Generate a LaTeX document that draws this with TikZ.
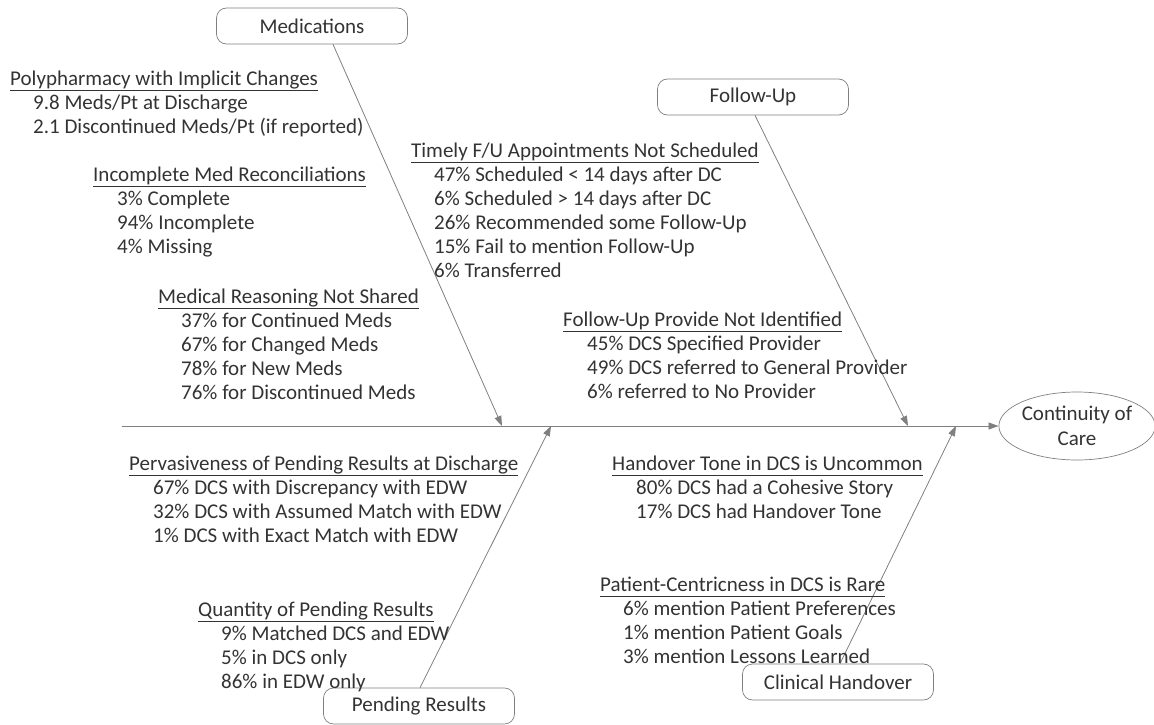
\documentclass[tikz,border=0pt]{standalone}
\usepackage{fontspec}
\setmainfont{Carlito}
\usepackage{tikz}
\usetikzlibrary{arrows.meta,shapes.geometric}

\definecolor{linegray}{HTML}{7F7F7F}
\definecolor{textgray}{HTML}{333333}
\newcommand{\bonetitle}[1]{\underline{#1\vphantom{gy}}}

\tikzset{
  cause/.style={draw=linegray, line width=0.7pt, rounded corners=10pt, minimum width=191pt,
    minimum height=36pt, inner sep=0pt, text=textgray},
  title/.style={anchor=base west, inner sep=0pt, text=textgray},
  item/.style={anchor=base west, inner sep=0pt, text=textgray},
  bone/.style={draw=linegray, line width=0.8pt, -{Triangle[length=10pt,width=7pt]}},
}

\begin{document}
\begin{tikzpicture}[x=1pt, y=-1pt, font=\fontsize{21}{25}\selectfont]
    \useasboundingbox (0,0) rectangle (1154,725);
    % Effect and spine
    \node[ellipse, draw=linegray, line width=0.7pt, minimum width=148pt, minimum height=68pt,
      inner sep=0pt, align=center, text=textgray] (effect) at (1077,426) {Continuity of\\Care};
    \coordinate (tail) at (122,426);
    \draw[bone] (tail) -- (effect.west);
    % Causes
    \node[cause] (meds) at (312,26) {Medications};
    \node[cause] (follow) at (753,97) {Follow-Up};
    \node[cause] (pending) at (419,706) {Pending Results};
    \node[cause] (handover) at (838,682) {Clinical Handover};
    % Bone heads on the spine
    \coordinate (medshead) at (502,426);
    \coordinate (followhead) at (908,426);
    \coordinate (pendinghead) at (551,426);
    \coordinate (handoverhead) at (956,426);
    \draw[bone] ([xshift=21pt]meds.south) -- (medshead);
    \draw[bone] ([xshift=2pt]follow.south) -- (followhead);
    \draw[bone] ([xshift=1pt]pending.north) -- (pendinghead);
    \draw[bone] ([xshift=2pt]handover.north) -- (handoverhead);
    % Medications
    \node[title] (poly) at (10,85) {\bonetitle{Polypharmacy with Implicit Changes}};
    \foreach \t [count=\i] in {9.8 Meds/Pt at Discharge, 2.1 Discontinued Meds/Pt (if reported)}
      \node[item] (poly\i) at (33,85+24*\i) {\t};
    \node[title] (recon) at (93,181) {\bonetitle{Incomplete Med Reconciliations}};
    \foreach \t [count=\i] in {3\% Complete, 94\% Incomplete, 4\% Missing}
      \node[item] (recon\i) at (117,181+24*\i) {\t};
    \node[title] (reason) at (158,303) {\bonetitle{Medical Reasoning Not Shared}};
    \foreach \t [count=\i] in {37\% for Continued Meds, 67\% for Changed Meds, 78\% for New Meds,
      76\% for Discontinued Meds}
      \node[item] (reason\i) at (181,303+24*\i) {\t};
    % Follow-Up
    \node[title] (timely) at (411,157) {\bonetitle{Timely F/U Appointments Not Scheduled}};
    \foreach \t [count=\i] in {47\% Scheduled < 14 days after DC, 6\% Scheduled > 14 days after DC,
      26\% Recommended some Follow-Up, 15\% Fail to mention Follow-Up, 6\% Transferred}
      \node[item] (timely\i) at (434,157+24*\i) {\t};
    \node[title] (provider) at (563,326) {\bonetitle{Follow-Up Provide Not Identified}};
    \foreach \t [count=\i] in {45\% DCS Specified Provider, 49\% DCS referred to General Provider,
      6\% referred to No Provider}
      \node[item] (provider\i) at (587,326+24*\i) {\t};
    % Pending Results
    \node[title] (pervasive) at (129,470) {\bonetitle{Pervasiveness of Pending Results at Discharge}};
    \foreach \t [count=\i] in {67\% DCS with Discrepancy with EDW, 32\% DCS with Assumed Match with EDW,
      1\% DCS with Exact Match with EDW}
      \node[item] (pervasive\i) at (153,470+24*\i) {\t};
    \node[title] (quantity) at (198,616) {\bonetitle{Quantity of Pending Results}};
    \foreach \t [count=\i] in {9\% Matched DCS and EDW, 5\% in DCS only, 86\% in EDW only}
      \node[item] (quantity\i) at (221,616+24*\i) {\t};
    % Clinical Handover
    \node[title] (tone) at (612,470) {\bonetitle{Handover Tone in DCS is Uncommon}};
    \foreach \t [count=\i] in {80\% DCS had a Cohesive Story, 17\% DCS had Handover Tone}
      \node[item] (tone\i) at (636,470+24*\i) {\t};
    \node[title] (centric) at (600,591) {\bonetitle{Patient-Centricness in DCS is Rare}};
    \foreach \t [count=\i] in {6\% mention Patient Preferences, 1\% mention Patient Goals,
      3\% mention Lessons Learned}
      \node[item] (centric\i) at (623,591+24*\i) {\t};
\end{tikzpicture}
\end{document}
